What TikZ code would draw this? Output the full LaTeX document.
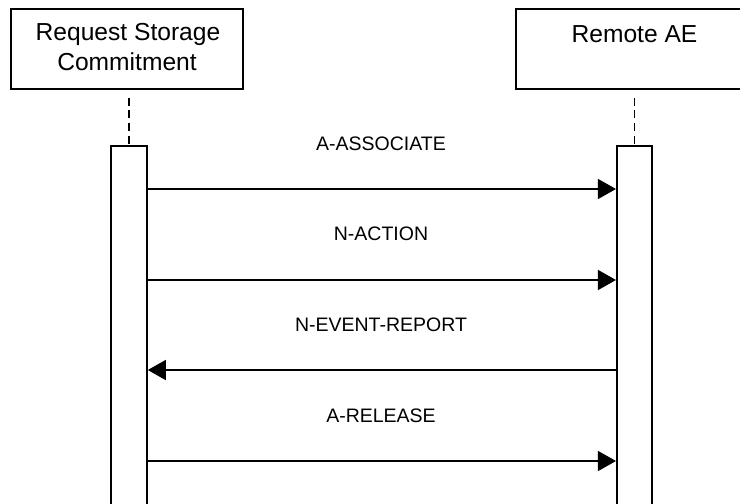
\documentclass[tikz,border=0pt]{standalone}
\usepackage{fontspec}
\setmainfont{Liberation Sans}
\usetikzlibrary{arrows.meta,calc}
\begin{document}
\begin{tikzpicture}[x=1bp,y=-1bp,
  box/.style={draw, line width=1.6bp, minimum width=232bp, minimum height=80bp, inner sep=0pt},
  bar/.style={draw, fill=white, line width=1.6bp, minimum width=36bp, minimum height=420bp, inner sep=0pt, anchor=north},
  life/.style={line width=1.4bp, dash pattern=on 8bp off 4.7bp},
  msg/.style={line width=1.5bp, -{Triangle[length=18bp,width=20bp]}},
  title/.style={font=\fontsize{24.6bp}{30bp}\selectfont, anchor=base, inner sep=0pt},
  lbl/.style={font=\fontsize{19.5bp}{23bp}\selectfont, anchor=base, inner sep=0pt}]
\useasboundingbox (0,0) rectangle (740,504);
\clip (0,0) rectangle (740,504);
% participant boxes
\node[box] (rsc) at (127,49) {};
\node[box, minimum width=237bp] (rae) at (634.5,49) {};
\node[title] (rsct1) at (128,41) {Request Storage};
\node[title] (rsct2) at (127,71) {Commitment};
\node[title] (raet) at (634.5,42.5) {Remote AE};
% activation bars
\node[bar] (bl) at (129,145) {};
\node[bar, minimum width=35.5bp] (br) at (634.5,145) {};
% lifelines
\draw[life] ($(bl.north |- rsc.south)+(0,8)$) -- (bl.north);
\draw[life] ($(br.north |- rae.south)+(0,8)$) -- (br.north);
% messages
\draw[msg] (bl.east |- 0,189) -- (br.west |- 0,189);
\draw[msg] (bl.east |- 0,280) -- (br.west |- 0,280);
\draw[msg] (br.west |- 0,370) -- (bl.east |- 0,370);
\draw[msg] (bl.east |- 0,461) -- (br.west |- 0,461);
% labels
\node[lbl] (l1) at (381,151) {A-ASSOCIATE};
\node[lbl] (l2) at (381,241) {N-ACTION};
\node[lbl] (l3) at (381,331.5) {N-EVENT-REPORT};
\node[lbl] (l4) at (381,422.5) {A-RELEASE};
\end{tikzpicture}
\end{document}
